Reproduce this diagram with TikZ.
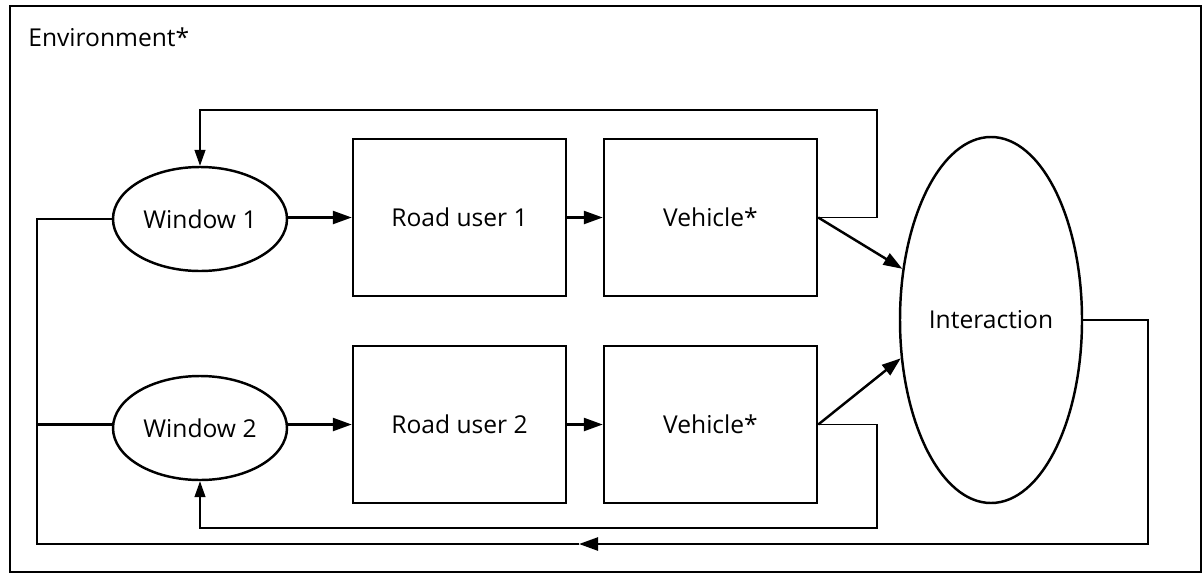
\documentclass[tikz,border=0pt]{standalone}
\usepackage{fontspec}
\setmainfont{Open Sans}
\usetikzlibrary{arrows.meta,shapes.geometric}
\newcommand{\lblfont}{\fontsize{14pt}{17pt}\selectfont}

\begin{document}
\begin{tikzpicture}[x=0.2mm, y=-0.2mm,
    block/.style={draw, line width=1.4pt, minimum width=42.6mm,
      minimum height=31.4mm, inner sep=0pt, font=\lblfont},
    window/.style={draw, ellipse, line width=1.4pt, minimum width=34.8mm,
      minimum height=20.8mm, inner sep=0pt, font=\lblfont},
    link/.style={line width=1.4pt},
    arr/.style={-{Triangle[length=3.8mm,width=2.6mm]}, line width=1.4pt},
    fb/.style={-{Triangle[length=3.2mm,width=2.2mm]}, line width=0.75pt}]
  \useasboundingbox (0,0) rectangle (1204,575);
  % --- Environment frame ---
  \draw[line width=1.4pt] (10,6) rectangle (1201,572);
  \node[anchor=base west, inner sep=0pt, font=\lblfont] (env) at (28,46)
    {Environment*};
  % --- Road users and vehicles ---
  \node[window] (win1) at (200,219) {Window 1};
  \node[block] (ru1) at (459.5,217.5) {Road user 1};
  \node[block] (veh1) at (710.5,217.5) {Vehicle*};
  \node[window] (win2) at (200,428) {Window 2};
  \node[block] (ru2) at (459.5,424.5) {Road user 2};
  \node[block] (veh2) at (710.5,424.5) {Vehicle*};
  \node[draw, ellipse, line width=1.4pt, minimum width=36.4mm,
        minimum height=73.2mm, inner sep=0pt, font=\lblfont]
    (inter) at (991,320) {Interaction};
  % --- Bend points ---
  \coordinate (top) at (877,110);
  \coordinate (bot) at (877,528);
  \coordinate (rr) at (1148,544);
  \coordinate (mid) at (579,544);
  \coordinate (ll) at (37,544);
  % --- Arrows ---
  \draw[arr] (win1.east |- ru1.west) -- (ru1.west);
  \draw[arr] (ru1) -- (veh1);
  \draw[arr] (win2.east |- ru2.west) -- (ru2.west);
  \draw[arr] (ru2) -- (veh2);
  \draw[arr] (veh1.east) -- (inter.150);
  \draw[arr] (veh2.east) -- (inter.203);
  % --- Feedback to the windows ---
  \draw[fb] (veh1.east) -| (top) -| (win1.north);
  \draw[fb] (veh2.east) -| (bot) -| (win2.south);
  % --- Interaction back into the environment ---
  \draw[arr] (inter.east) -| (rr) -- (mid);
  \draw[link] (mid) -- (ll) |- (win1.west);
  \draw[link] (ll |- ru2.west) -- (win2.west |- ru2.west);
\end{tikzpicture}
\end{document}
